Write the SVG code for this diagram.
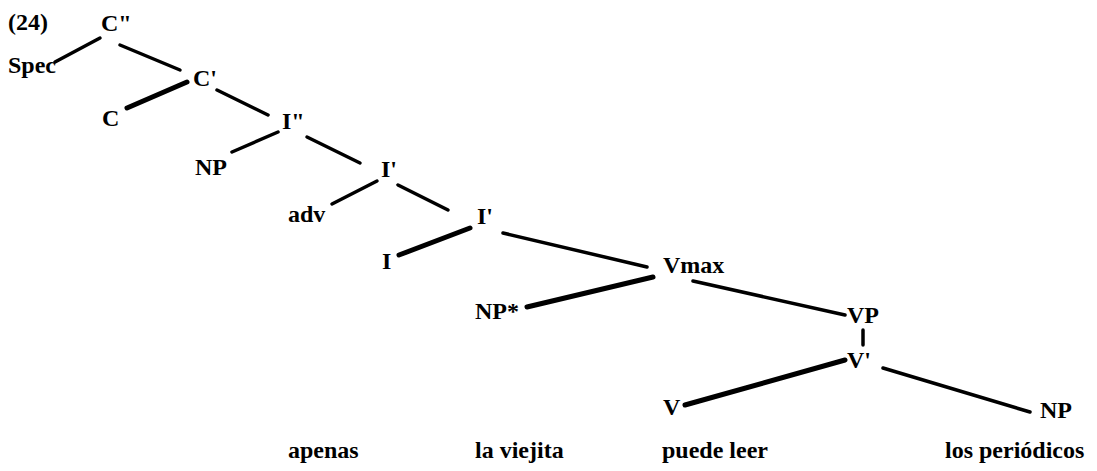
<svg xmlns="http://www.w3.org/2000/svg" width="1097" height="471" viewBox="0 0 1097 471">
<style>
text{font-family:"Liberation Serif","Times New Roman",serif;font-size:24px;font-weight:bold;fill:#000}
.e line{stroke:#000;stroke-width:3.5;stroke-linecap:round}
.e line.t{stroke-width:5}
</style>
<rect width="1097" height="471" fill="#fff"/>
<text id="label24" x="8" y="30">(24)</text>
<g id="connectors" class="e">
<line x1="55" y1="62" x2="100" y2="38"/>
<line x1="120" y1="45" x2="180" y2="70"/>
<line class="t" x1="127" y1="108" x2="187" y2="82"/>
<line x1="217" y1="90" x2="268" y2="115"/>
<line x1="232" y1="152" x2="278" y2="132"/>
<line x1="307" y1="137" x2="360" y2="163"/>
<line x1="332" y1="204" x2="377" y2="181"/>
<line x1="398" y1="185" x2="448" y2="210"/>
<line class="t" x1="399" y1="255" x2="470" y2="228"/>
<line x1="503" y1="233" x2="647" y2="267"/>
<line class="t" x1="527" y1="307" x2="653" y2="277"/>
<line x1="693" y1="281" x2="845" y2="315"/>
<line x1="863" y1="330" x2="863" y2="345"/>
<line class="t" x1="685" y1="405" x2="845" y2="360"/>
<line x1="883" y1="368" x2="1030" y2="412"/>
</g>
<g id="n-C2"><text x="101" y="31">C"</text></g>
<g id="n-Spec"><text x="8" y="73">Spec</text></g>
<g id="n-C1"><text x="193" y="86">C'</text></g>
<g id="n-C"><text x="102" y="126">C</text></g>
<g id="n-I2"><text x="282" y="129">I"</text></g>
<g id="n-NP1"><text x="195" y="175">NP</text></g>
<g id="n-I1a"><text x="381" y="177">I'</text></g>
<g id="n-adv"><text x="288" y="222">adv</text></g>
<g id="n-I1b"><text x="477" y="224">I'</text></g>
<g id="n-I"><text x="382" y="269">I</text></g>
<g id="n-Vmax"><text x="663" y="273">Vmax</text></g>
<g id="n-NPstar"><text x="475" y="319">NP*</text></g>
<g id="n-VP"><text x="847" y="323">VP</text></g>
<g id="n-V1"><text x="847" y="368">V'</text></g>
<g id="n-V"><text x="663" y="415">V</text></g>
<g id="n-NP2"><text x="1040" y="418">NP</text></g>
<g id="words">
<text x="288" y="458">apenas</text>
<text x="475" y="458">la viejita</text>
<text x="662" y="458">puede leer</text>
<text x="945" y="458">los periódicos</text>
</g>
</svg>
